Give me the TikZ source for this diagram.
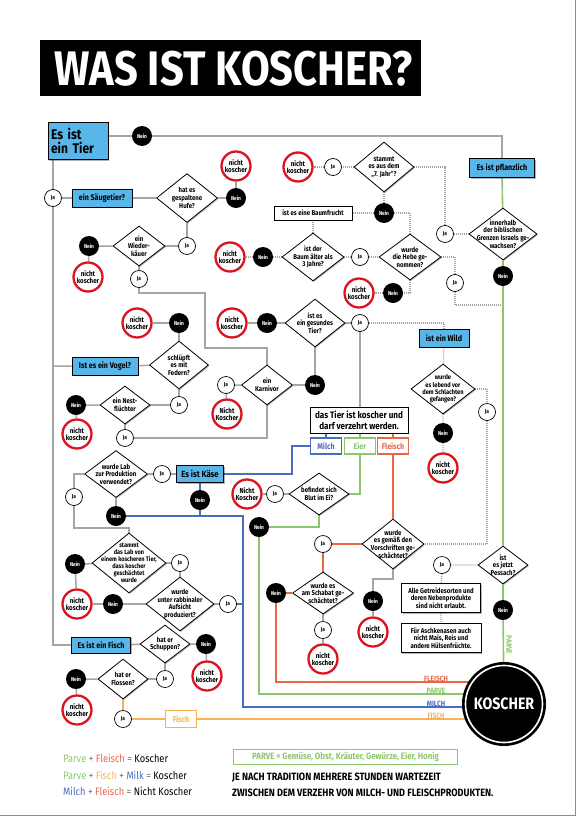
\documentclass[tikz,border=0pt]{standalone}
\usepackage{fontspec}
\setmainfont{Fira Sans}[FakeStretch=0.86]
\usetikzlibrary{shapes.geometric,shadows,backgrounds}
\definecolor{lgray}{RGB}{165,165,165}
\definecolor{bblue}{RGB}{88,183,232}
\definecolor{mblue}{RGB}{72,110,190}
\definecolor{pgreen}{RGB}{140,198,110}
\definecolor{fred}{RGB}{232,102,72}
\definecolor{forange}{RGB}{246,178,84}
\definecolor{kred}{RGB}{220,20,30}
\newcommand\fsD{\fontsize{7}{7.6}\selectfont\bfseries}
\newcommand\fsT{\fontsize{5.6}{5.6}\selectfont\bfseries}
\newcommand\fsN{\fontsize{7.2}{7.2}\selectfont\bfseries}
\newcommand\fsB{\fontsize{8.3}{9}\selectfont\bfseries}
\newcommand\fsL{\fontsize{10.8}{12}\selectfont}
\tikzset{
 every node/.style={align=center},
 ln/.style={draw=lgray, line width=1.5pt},
 dt/.style={draw=lgray, line width=1.2pt, dash pattern=on 1pt off 1pt},
 mil/.style={draw=mblue, line width=1.5pt},
 grn/.style={draw=pgreen, line width=1.6pt},
 frd/.style={draw=fred, line width=1.5pt},
 ora/.style={draw=forange, line width=1.5pt},
 shd/.style={drop shadow={shadow xshift=1pt, shadow yshift=-1pt, fill=black, opacity=0.3}},
 nein/.style={circle, fill=black, text=white, minimum size=20pt, inner sep=0pt, font=\fsT},
 ja/.style={circle, draw=black, fill=white, line width=0.7pt, minimum size=17pt, inner sep=0pt, font=\fsT},
 nk/.style={circle, draw=kred, fill=white, line width=2.3pt, minimum size=29pt, inner sep=0pt, font=\fsN},
 dl/.style={font=\fsD, align=center, inner sep=0pt},
 dia/.style 2 args={diamond, draw=black, fill=white, line width=0.8pt, inner sep=0pt, minimum width=#1pt, minimum height=#2pt, shd},
 bb/.style 2 args={rectangle, draw=black, fill=bblue, line width=0.9pt, inner sep=0pt, minimum width=#1pt, minimum height=#2pt, font=\fsB, shd},
 wb/.style 2 args={rectangle, draw=black, fill=white, line width=0.9pt, inner sep=0pt, minimum width=#1pt, minimum height=#2pt, font=\fsD, shd},
 cb/.style={rectangle, draw=#1, text=#1, fill=white, line width=1.1pt, inner sep=0pt, minimum width=31pt, minimum height=16pt, font=\fsB},
 llab/.style={anchor=south, inner sep=0.6pt, font=\fontsize{7.6}{7.6}\selectfont\bfseries, text=#1},
}
\begin{document}
\begin{tikzpicture}[x=1pt,y=-1pt]
\useasboundingbox (0,0) rectangle (584,827);
\draw[black!45, line width=0.8pt] (0,815) -- (575,815) -- (575,0);
% title
\fill[black] (40,40) rectangle (421,96);
\node[anchor=west, text=white, font=\fontsize{48.5}{48}\selectfont\bfseries, inner sep=0pt] (title) at (54,69) {WAS IST KOSCHER?};

% ---------- nodes: top / plant branch
\node[bb={60}{37}, text width=54pt, align=left, font=\fontsize{14}{14.5}\selectfont\bfseries] (tier) at (78,141) {Es ist\\ein Tier};
\node[nein] (n0) at (142,136) {Nein};
\node[bb={65}{19}] (pfl) at (502,168) {Es ist pflanzlich};
\node[dia={68}{52}, label={[dl]center:{innerhalb\\der biblischen\\Grenzen Israels ge-\\wachsen?}}] (disr) at (503,234) {};
\node[nein] (nisr) at (503,276) {Nein};
\node[ja] (jisr) at (445,234) {Ja};
\node[dia={60}{50}, label={[dl]center:{stammt\\es aus dem\\„7. Jahr“?}}] (d7) at (384,167) {};
\node[ja] (j7) at (333,167) {Ja};
\node[nk] (k7) at (298,167) {nicht\\koscher};
\node[nein] (n7) at (384,213) {Nein};
\node[wb={78}{14}] (baum) at (313,213) {ist es eine Baumfrucht};
\node[dia={62}{48}, label={[dl]center:{ist der\\Baum älter als\\3 Jahre?}}] (dbaum) at (313,257) {};
\node[nein] (nbaum) at (263,257) {Nein};
\node[nk] (kbaum) at (230,257) {nicht\\koscher};
\node[ja] (jbaum) at (360,257) {Ja};
\node[dia={62}{46}, label={[dl]center:{wurde\\die Hebe ge-\\nommen?}}] (dhebe) at (410,257) {};
\node[ja] (jhebe) at (455,283) {Ja};
\node[nein] (nhebe) at (393,293) {Nein};
\node[nk] (khebe) at (359,293) {nicht\\koscher};

% ---------- left: mammals / birds
\node[ja] (js) at (53,198) {Ja};
\node[bb={60}{18}] (saeug) at (102,198) {ein Säugetier?};
\node[dia={61}{49}, label={[dl]center:{hat es\\gespaltene\\Hufe?}}] (dhuf) at (187,198) {};
\node[nein] (nhuf) at (236,198) {Nein};
\node[nk] (khuf) at (236,166) {nicht\\koscher};
\node[ja] (jhuf) at (187,246) {Ja};
\node[dia={52}{40}, label={[dl]center:{ein\\Wieder-\\käuer}}] (dwk) at (139,246) {};
\node[nein] (nwk) at (89,246) {Nein};
\node[nk] (kwk) at (88,277) {nicht\\koscher};
\node[ja] (jwk) at (139,279) {Ja};
\node[bb={66}{18}] (vogel) at (105,366) {Ist es ein Vogel?};
\node[dia={59}{48}, label={[dl]center:{schlüpft\\es mit\\Federn?}}] (dfed) at (179,365) {};
\node[nein] (nfed) at (179,323) {Nein};
\node[nk] (kfed) at (137,323) {nicht\\koscher};
\node[ja] (jfed) at (179,405) {Ja};
\node[dia={50}{38}, label={[dl]center:{ein Nest-\\flüchter}}] (dnest) at (125,405) {};
\node[nein] (nnest) at (76,405) {Nein};
\node[nk] (knest) at (77,434) {nicht\\koscher};
\node[ja] (jnest) at (125,438) {Ja};
\node[dia={51}{40}, label={[dl]center:{ein\\Karnivor}}] (dkarn) at (267,385) {};
\node[ja] (jkarn) at (226,385) {Ja};
\node[nk] (kkarn) at (227,414) {Nicht\\Koscher};
\node[nein] (nkarn) at (315,385) {Nein};
\node[dia={60}{48}, label={[dl]center:{ist es\\ein gesundes\\Tier?}}] (dges) at (315,323) {};
\node[nein] (nges) at (267,323) {Nein};
\node[nk] (kges) at (232,323) {nicht\\koscher};
\node[ja] (jges) at (360,323) {Ja};
\node[bb={50}{18}] (wild) at (444,338) {ist ein Wild};
\node[dia={64}{50}, label={[dl, font=\fontsize{6.6}{7.3}\selectfont\bfseries]center:{wurde\\es lebend vor\\dem Schlachten\\gefangen?}}] (dleb) at (443,389) {};
\node[nein] (nleb) at (443,433) {Nein};
\node[nk] (kleb) at (443,468) {nicht\\koscher};
\node[ja] (jleb) at (487,412) {Ja};
\node[wb={98}{26}, font=\fontsize{9.4}{10.6}\selectfont\bfseries] (tok) at (359,420) {das Tier ist koscher und\\darf verzehrt werden.};
\node[cb=mblue] (milch) at (326,446) {Milch};
\node[cb=pgreen] (eier) at (360,446) {Eier};
\node[cb=fred] (fleisch) at (393,446) {Fleisch};

% ---------- milk / cheese
\node[bb={47}{17}, font=\fontsize{9}{9}\selectfont\bfseries] (kaese) at (200,474) {Es ist Käse};
\node[nein] (nkaese) at (200,500) {Nein};
\node[ja] (jkaese) at (162,474) {Ja};
\node[dia={63}{47}, label={[dl]center:{wurde Lab\\zur Produktion\\verwendet?}}] (dlab) at (116,474) {};
\node[nein] (nlab) at (116,516) {Nein};
\node[ja] (jlab) at (74,497) {Ja};
\node[dia={74}{60}, label={[dl, font=\fontsize{6.5}{7.1}\selectfont\bfseries]center:{stammt\\das Lab von\\einem koscheren Tier,\\dass koscher\\geschächtet\\wurde}}] (dst) at (129,563) {};
\node[nein] (nst) at (75,564) {Nein};
\node[nk] (kst) at (77,604) {nicht\\koscher};
\node[ja] (jst) at (180,563) {Ja};
\node[dia={68}{54}, label={[dl]center:{wurde\\unter rabbinaler\\Aufsicht\\produziert?}}] (drab) at (180,604) {};
\node[nein] (nrab) at (113,604) {Nein};
\node[ja] (jrab) at (228,604) {Ja};

% ---------- fish
\node[bb={59}{16}] (fischbox) at (101,645) {Es ist ein Fisch};
\node[dia={50}{38}, label={[dl]center:{hat er\\Schuppen?}}] (dsch) at (165,644) {};
\node[nein] (nsch) at (206,644) {Nein};
\node[nk] (ksch) at (207,676) {nicht\\koscher};
\node[ja] (jsch) at (165,679) {Ja};
\node[dia={50}{40}, label={[dl]center:{hat er\\Flossen?}}] (dflo) at (123,679) {};
\node[nein] (nflo) at (76,679) {Nein};
\node[nk] (kflo) at (77,710) {nicht\\koscher};
\node[ja] (jflo) at (123,719) {Ja};
\node[cb=forange, minimum height=17pt] (fisch) at (181,719) {Fisch};

% ---------- eggs / meat
\node[dia={60}{42}, label={[dl]center:{befindet sich\\Blut im Ei?}}] (dei) at (319,494) {};
\node[ja] (jei) at (275,494) {Ja};
\node[nk] (kei) at (247,494) {Nicht\\Koscher};
\node[nein] (nei) at (259,527) {Nein};
\node[dia={62}{50}, label={[dl]center:{wurde\\es gemäß den\\Vorschriften ge-\\schächtet?}}] (dvor) at (393,544) {};
\node[ja] (jvor) at (323,544) {Ja};
\node[dia={61}{42}, label={[dl]center:{wurde es\\am Schabat ge-\\schächtet?}}] (dsab) at (323,593) {};
\node[nein] (nsab) at (276,593) {Nein};
\node[ja] (jsab) at (323,630) {Ja};
\node[nk] (ksab) at (323,659) {nicht\\koscher};
\node[nein] (nvor) at (373,601) {Nein};
\node[nk] (kvor) at (373,632) {nicht\\koscher};
\node[dia={50}{38}, label={[dl]center:{ist\\es jetzt\\Pessach?}}] (dpes) at (503,565) {};
\node[ja] (jpes) at (442,565) {Ja};
\node[nein] (npes) at (503,610) {Nein};
\node[wb={79}{29}] (getr) at (441,598) {Alle Getreidesorten und\\deren Nebenprodukte\\sind nicht erlaubt.};
\node[wb={80}{29}] (asch) at (441,638) {Für Aschkenasen auch\\nicht Mais, Reis und\\andere Hülsenfrüchte.};
\node[text=pgreen, rotate=-90, font=\fontsize{7.6}{7.6}\selectfont\bfseries, inner sep=0pt] (parvev) at (509,645) {PARVE};

% KOSCHER
\node[circle, fill=black, minimum size=84pt, inner sep=0pt, text=white, font=\fontsize{16.5}{16.5}\selectfont\bfseries] (kosch) at (504,704) {KOSCHER};
\draw[white, line width=1.6pt] (kosch.center) circle (38.5);

% line labels
\node[llab=fred] (lfl) at (436,682) {FLEISCH};
\node[llab=pgreen] (lpa) at (436,694) {PARVE};
\node[llab=mblue] (lmi) at (436,707) {MILCH};
\node[llab=forange] (lfi) at (436,719) {FISCH};

% legend
\node[anchor=west, font=\fsL, inner sep=0pt] (leg1) at (63,758) {\textcolor{pgreen}{Parve} \textcolor{black!55}{+} \textcolor{fred}{Fleisch} \textcolor{black!55}{=} Koscher};
\node[anchor=west, font=\fsL, inner sep=0pt] (leg2) at (63,775) {\textcolor{pgreen}{Parve} \textcolor{black!55}{+} \textcolor{forange}{Fisch} \textcolor{black!55}{+} \textcolor{mblue}{Milk} \textcolor{black!55}{=} Koscher};
\node[anchor=west, font=\fsL, inner sep=0pt] (leg3) at (63,791) {\textcolor{mblue}{Milch} \textcolor{black!55}{+} \textcolor{fred}{Fleisch} \textcolor{black!55}{=} Nicht Koscher};
\node[draw=pgreen, line width=1.1pt, text=pgreen, anchor=west, minimum width=224pt, minimum height=15pt, inner sep=0pt, font=\fontsize{9.2}{9.2}\selectfont\bfseries] (parvebox) at (233,757) {PARVE = Gemüse, Obst, Kräuter, Gewürze, Eier, Honig};
\node[anchor=west, inner sep=0pt, align=left, font=\fontsize{10.6}{15.5}\selectfont\bfseries] (wartezeit) at (232,785) {JE NACH TRADITION MEHRERE STUNDEN WARTEZEIT\\ZWISCHEN DEM VERZEHR VON MILCH- UND FLEISCHPRODUKTEN.};

% ---------- connectors
\begin{scope}[on background layer]
% gray solid
\draw[ln] (tier.east |- n0) -- (n0) -- (pfl.north |- n0) -- (pfl.north);
\draw[ln] (tier.south -| js) -- (js) -- (fischbox.west -| js) -- (fischbox.west);
\draw[ln] (js) -- (saeug) -- (dhuf);
\draw[ln] (dhuf) -- (nhuf) -- (khuf);
\draw[ln] (dhuf) -- (jhuf) -- (dwk);
\draw[ln] (dwk) -- (nwk) -- (kwk);
\draw[ln] (dwk) -- (jwk) -- (139,293) -- (205,293) -- (205,348) -- (267,348) -- (dkarn.north);
\draw[ln] (vogel.west -| js) -- (vogel) -- (dfed);
\draw[ln] (dfed) -- (nfed) -- (kfed);
\draw[ln] (dfed) -- (jfed) -- (dnest);
\draw[ln] (dnest) -- (nnest) -- (knest);
\draw[ln] (dnest) -- (jnest) -- (267,438) -- (dkarn.south);
\draw[ln] (dkarn) -- (jkarn) -- (kkarn);
\draw[ln] (dkarn) -- (nkarn) -- (dges.south);
\draw[ln] (dges) -- (nges) -- (kges);
\draw[ln] (dges) -- (jges) -- (jges |- tok.north);
\draw[ln] (dei) -- (jei) -- (kei);
\draw[ln] (dsab) -- (jsab) -- (ksab);
\draw[ln] (dvor.south) -- (393,579) -- (373,579) -- (nvor) -- (kvor);
\draw[ln] (dlab) -- (jkaese) -- (kaese);
\draw[ln] (dlab) -- (nlab);
\draw[ln] (dlab.west) -- (74,474) -- (jlab) -- (74,528) -- (129,528) -- (dst.north);
\draw[ln] (dst) -- (nst) -- (kst);
\draw[ln] (dst) -- (jst) -- (drab.north);
\draw[ln] (drab) -- (nrab) -- (kst);
\draw[ln] (drab) -- (jrab);
\draw[ln] (fischbox) -- (dsch) -- (nsch) -- (ksch);
\draw[ln] (dsch) -- (jsch) -- (dflo);
\draw[ln] (dflo) -- (nflo) -- (kflo);
% dotted
\draw[dt] (d7) -- (j7) -- (k7);
\draw[dt] (d7) -- (n7) -- (baum);
\draw[dt] (n7) -- (410,213) -- (dhebe.north);
\draw[dt] (baum) -- (dbaum) -- (nbaum) -- (kbaum);
\draw[dt] (dbaum) -- (jbaum) -- (dhebe);
\draw[dt] (dhebe.east) -- (455,257) -- (jhebe) -- (455,305) -- (503,305);
\draw[dt] (dhebe.south) -- (410,293) -- (nhebe) -- (khebe);
\draw[dt] (disr) -- (jisr) -- (jisr |- d7) -- (d7.east);
\draw[dt] (jges) -- (444,323) -- (wild.north);
\draw[dt] (wild) -- (dleb) -- (nleb) -- (kleb);
\draw[dt] (dleb.east) -- (487,389) -- (jleb) -- (487,544) -- (dvor.east);
\draw[dt] (dpes) -- (jpes) -- (getr) -- (asch);
% green
\draw[grn] (pfl) -- (disr) -- (nisr) -- (dpes) -- (npes) -- (kosch);
\draw[grn] (tok.south -| eier) -- (eier.north);
\draw[grn] (eier) -- (eier |- dei) -- (dei.east);
\draw[grn] (dei.south) -- (319,527) -- (nei) -- (259,694) -- (504,694);
% blue
\draw[mil] (tok.south -| milch) -- (milch.north);
\draw[mil] (milch.west) -- (292,446) -- (292,474) -- (kaese.east);
\draw[mil] (kaese) -- (nkaese) -- (200,516);
\draw[mil] (nlab) -- (243,516) -- (243,707) -- (504,707);
\draw[mil] (jrab) -- (243,604);
% red
\draw[frd] (tok.south -| fleisch) -- (fleisch.north);
\draw[frd] (fleisch) -- (dvor);
\draw[frd] (dvor) -- (jvor) -- (dsab);
\draw[frd] (dsab) -- (nsab) -- (276,682) -- (504,682);
% orange
\draw[ora] (dflo) -- (jflo) -- (fisch) -- (504,719);
\end{scope}
\end{tikzpicture}
\end{document}
